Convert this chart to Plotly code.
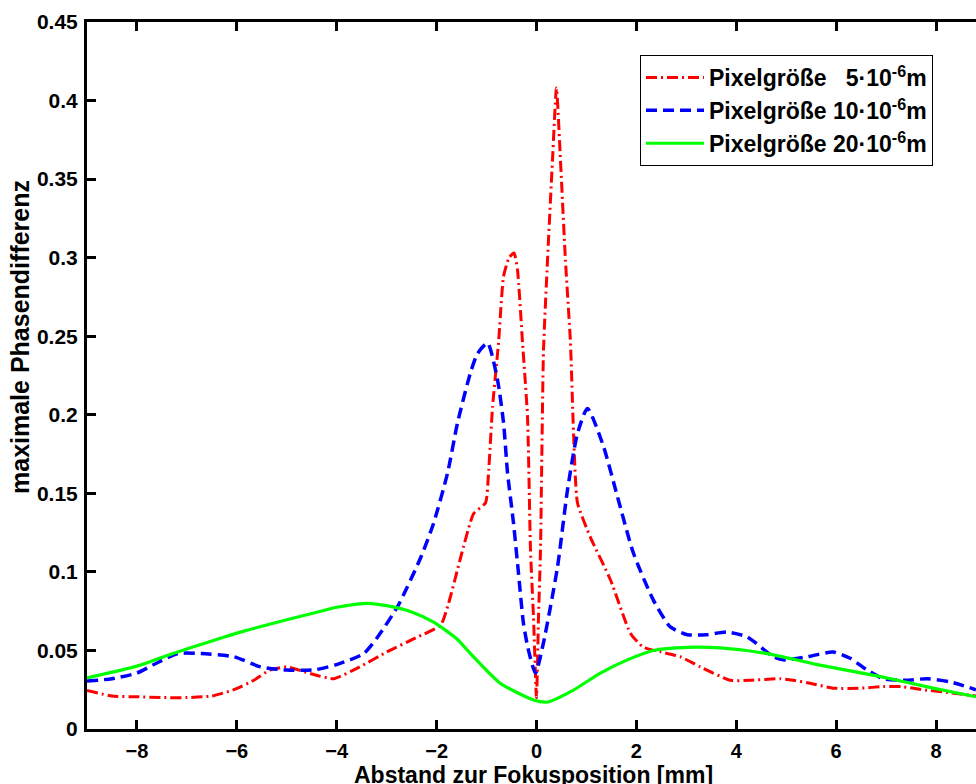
import plotly.graph_objects as go

# ---- data ----
x_red = [-9, -8.5, -8, -7.5, -7, -6.5, -6.06, -5.66, -5.34, -5.0, -4.5, -4.06, -3.54, -3.0,
         -2.42, -1.92, -1.76, -1.52, -1.26, -1.02, -0.96, -0.88, -0.76, -0.66, -0.55, -0.45,
         -0.38, -0.28, -0.18, -0.12, -0.06, 0.0, 0.04, 0.08, 0.14, 0.22, 0.32, 0.4, 0.48, 0.58,
         0.68, 0.74, 0.82, 1.08, 1.48, 1.88, 2.14, 2.5, 2.88, 3.28, 3.88, 4.28, 4.88, 5.14,
         5.5, 5.94, 6.5, 6.94, 7.3, 7.74, 8.3, 8.8]
y_red = [0.0245, 0.021, 0.0205, 0.020, 0.020, 0.021, 0.025, 0.031, 0.0375, 0.0395, 0.035, 0.032,
         0.0395, 0.049, 0.058, 0.066, 0.080, 0.109, 0.137, 0.144, 0.163, 0.205, 0.246, 0.288,
         0.300, 0.303, 0.292, 0.246, 0.199, 0.114, 0.071, 0.020, 0.071, 0.114, 0.241, 0.298,
         0.362, 0.408, 0.362, 0.298, 0.246, 0.190, 0.144, 0.122, 0.095, 0.061, 0.052, 0.049,
         0.046, 0.0395, 0.031, 0.031, 0.032, 0.031, 0.029, 0.026, 0.026, 0.027, 0.027, 0.025,
         0.023, 0.021]

x_blue = [-9, -8.5, -8, -7.6, -7.18, -6.72, -6.06, -5.52, -5.0, -4.46, -4.0, -3.46, -3.18,
          -2.78, -2.32, -2.06, -1.78, -1.58, -1.32, -1.18, -0.98, -0.78, -0.66, -0.58, -0.46,
          -0.36, -0.26, -0.16, -0.02, 0.14, 0.42, 0.62, 0.82, 1.02, 1.34, 1.62, 1.94, 2.34,
          2.68, 3.02, 3.4, 3.82, 4.22, 4.74, 4.94, 5.42, 5.94, 6.28, 6.6, 6.94, 7.4, 7.82,
          8.28, 8.8]
y_blue = [0.0305, 0.032, 0.0356, 0.042, 0.048, 0.048, 0.046, 0.0395, 0.0376, 0.0376, 0.041,
          0.048, 0.0586, 0.078, 0.109, 0.131, 0.163, 0.195, 0.227, 0.239, 0.2457, 0.222, 0.195,
          0.163, 0.131, 0.099, 0.067, 0.050, 0.0356, 0.055, 0.103, 0.152, 0.188, 0.204, 0.180,
          0.148, 0.112, 0.082, 0.065, 0.060, 0.060, 0.0617, 0.0586, 0.046, 0.044, 0.046, 0.049,
          0.045, 0.038, 0.032, 0.031, 0.032, 0.030, 0.025]

x_green = [-9, -8, -7.38, -6.5, -6.0, -5.0, -4.5, -4.0, -3.6, -3.38, -3.0, -2.5, -2.06,
           -1.58, -1.38, -0.72, -0.06, 0.22, 0.74, 1.28, 1.82, 2.34, 3.02, 3.68, 4.62, 5.62,
           6.94, 7.94, 8.8]
y_green = [0.0325, 0.040, 0.047, 0.056, 0.061, 0.0695, 0.0735, 0.0775, 0.0795, 0.080, 0.0785,
           0.0745, 0.068, 0.057, 0.050, 0.029, 0.0185, 0.0172, 0.0248, 0.0356, 0.044, 0.050,
           0.052, 0.0516, 0.048, 0.041, 0.033, 0.026, 0.0205]

names = ["Pixelgröße   5·10<sup>-6</sup>m",
         "Pixelgröße 10·10<sup>-6</sup>m",
         "Pixelgröße 20·10<sup>-6</sup>m"]
x_ticks = [-8, -6, -4, -2, 0, 2, 4, 6, 8]
y_ticks = [0, 0.05, 0.1, 0.15, 0.2, 0.25, 0.3, 0.35, 0.4, 0.45]
x_title = "Abstand zur Fokusposition [mm]"
y_title = "maximale Phasendifferenz"

FONT = "Liberation Sans, Arial, sans-serif"

fig = go.Figure()
fig.add_trace(go.Scatter(x=x_red, y=y_red, mode="lines", name=names[0],
                         line=dict(color="#FF0000", width=3, dash="11px,4px,2px,4px",
                                   shape="spline", smoothing=0.5)))
fig.add_trace(go.Scatter(x=x_blue, y=y_blue, mode="lines", name=names[1],
                         line=dict(color="#0000FF", width=3.5, dash="11px,6px",
                                   shape="spline", smoothing=0.6)))
fig.add_trace(go.Scatter(x=x_green, y=y_green, mode="lines", name=names[2],
                         line=dict(color="#00FF00", width=3.2,
                                   shape="spline", smoothing=0.6)))

fig.update_layout(
    width=976, height=784,
    margin=dict(l=87, r=0, t=22, b=55, autoexpand=False),
    paper_bgcolor="white", plot_bgcolor="white",
    font=dict(family=FONT, size=21, color="black", weight="bold"),
    showlegend=True,
    legend=dict(x=(640 - 87) / 889, y=(729 - 55) / 707, xanchor="left", yanchor="top",
                bgcolor="white", bordercolor="black", borderwidth=1, itemwidth=58,
                font=dict(family=FONT, size=23, color="black", weight="bold")),
    xaxis=dict(range=[-9, 8.8], tickvals=x_ticks, ticks="inside", ticklen=9, tickwidth=3,
               tickcolor="black", showline=True, linewidth=3, linecolor="black",
               mirror="ticks", showgrid=False, zeroline=False, automargin=False,
               ticklabelstandoff=2, tickfont=dict(size=20)),
    yaxis=dict(range=[0, 0.45], tickvals=y_ticks, ticks="inside", ticklen=9, tickwidth=3,
               tickcolor="black", showline=True, linewidth=3, linecolor="black",
               mirror=False, showgrid=False, zeroline=False, ticklabelstandoff=2,
               automargin=False, tickfont=dict(size=21)),
    yaxis2=dict(range=[0, 0.45], tickvals=y_ticks, overlaying="y", side="right",
                ticks="inside", ticklen=5, tickwidth=2, tickcolor="#999999",
                showticklabels=False, showline=False, showgrid=False, zeroline=False,
                automargin=False),
    annotations=[
        dict(text=x_title, xref="x", yref="paper", x=-0.06, y=-(775 - 729) / 707,
             xanchor="center", yanchor="middle", showarrow=False,
             font=dict(size=23, weight="bold")),
        dict(text=y_title, xref="paper", yref="paper", x=(20 - 87) / 889,
             y=(729 - 337) / 707, xanchor="center", yanchor="middle", textangle=-90,
             showarrow=False, font=dict(size=25, weight="bold")),
    ],
)

fig.write_html("out.html",
               config={"displayModeBar": False},
               post_script="document.body.style.margin='0px';"
                           "document.body.style.overflow='hidden';"
                           "window.dispatchEvent(new Event('resize'));")
